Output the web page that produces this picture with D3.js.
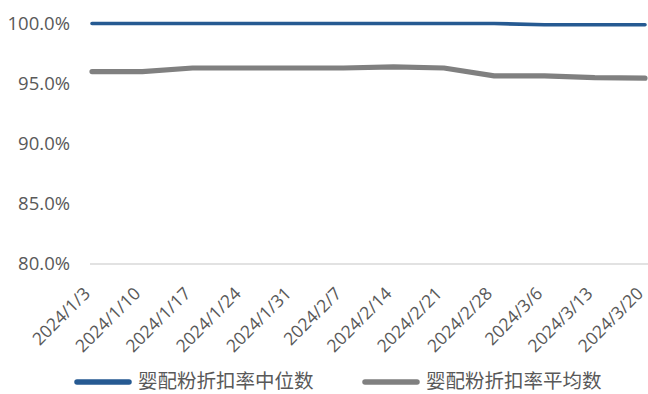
<!DOCTYPE html>
<html>
<head>
<meta charset="utf-8">
<script src="https://cdn.jsdelivr.net/npm/d3@7"></script>
<style>
  html, body { margin: 0; padding: 0; background: #fff; }
  svg { display: block; }
</style>
</head>
<body>
<svg id="chart" width="648" height="394"></svg>
<script>
// Weekly dates on the category axis
const dates = ["2024/1/3", "2024/1/10", "2024/1/17", "2024/1/24", "2024/1/31", "2024/2/7",
               "2024/2/14", "2024/2/21", "2024/2/28", "2024/3/6", "2024/3/13", "2024/3/20"];
// 婴配粉折扣率中位数 (median discount rate)
const medianRate = [1.000, 1.000, 1.000, 1.000, 1.000, 1.000, 1.000, 1.000, 1.000, 0.999, 0.999, 0.999];
// 婴配粉折扣率平均数 (mean discount rate)
const meanRate = [0.960, 0.960, 0.963, 0.963, 0.963, 0.963, 0.964, 0.963, 0.9565, 0.9565, 0.955, 0.9545];
// Y axis ticks
const yTicks = [0.80, 0.85, 0.90, 0.95, 1.00];
const seriesNames = ["婴配粉折扣率中位数", "婴配粉折扣率平均数"];
const seriesColors = ["#265A92", "#808080"];

const svg = d3.select("#chart");
const latin = "'Open Sans', 'Liberation Sans', sans-serif";
const cjk = "'Noto Sans CJK SC', sans-serif";

const x = d3.scalePoint().domain(dates).range([92, 645]);
const y = d3.scaleLinear().domain([0.80, 1.00]).range([264, 23.5]);

// baseline at 80%
svg.append("line")
  .attr("x1", 90).attr("x2", 648)
  .attr("y1", y(0.80)).attr("y2", y(0.80))
  .attr("stroke", "#D9D9D9").attr("stroke-width", 1.5);

// y axis labels
const yAxis = d3.axisLeft(y).tickValues(yTicks).tickFormat(d3.format(".1%")).tickSize(0).tickPadding(0);
const yg = svg.append("g").attr("transform", "translate(70,0)").call(yAxis);
yg.select(".domain").remove();
yg.selectAll("text")
  .attr("font-family", latin).attr("font-size", 18.5).attr("fill", "#595959");

// x axis labels, rotated
const xAxis = d3.axisBottom(x).tickSize(0).tickPadding(0);
const xg = svg.append("g").attr("transform", `translate(0,${y(0.80)})`).call(xAxis);
xg.select(".domain").remove();
xg.selectAll(".tick text")
  .attr("font-family", latin).attr("font-size", 17.5).attr("fill", "#595959")
  .attr("text-anchor", "end")
  .attr("dy", "0.3em")
  .attr("y", 0)
  .attr("transform", "translate(-5,27) rotate(-45)");

// series lines
const line = d3.line().x((d, i) => x(dates[i])).y(d => y(d));
svg.append("path").datum(meanRate)
  .attr("d", line).attr("fill", "none")
  .attr("stroke", seriesColors[1]).attr("stroke-width", 5.2)
  .attr("stroke-linecap", "round").attr("stroke-linejoin", "round");
svg.append("path").datum(medianRate)
  .attr("d", line).attr("fill", "none")
  .attr("stroke", seriesColors[0]).attr("stroke-width", 3.6)
  .attr("stroke-linecap", "round").attr("stroke-linejoin", "round");

// legend
const legendX = [77, 365];
const legendY = 382;
const legend = svg.append("g");
seriesNames.forEach((name, i) => {
  legend.append("line")
    .attr("x1", legendX[i]).attr("x2", legendX[i] + 52)
    .attr("y1", legendY).attr("y2", legendY)
    .attr("stroke", seriesColors[i]).attr("stroke-width", 5.5)
    .attr("stroke-linecap", "round");
  legend.append("text")
    .attr("x", legendX[i] + 61).attr("y", legendY).attr("dy", "0.32em")
    .attr("font-family", cjk).attr("font-size", 19.5)
    .attr("fill", "#595959")
    .text(name);
});
</script>
</body>
</html>
